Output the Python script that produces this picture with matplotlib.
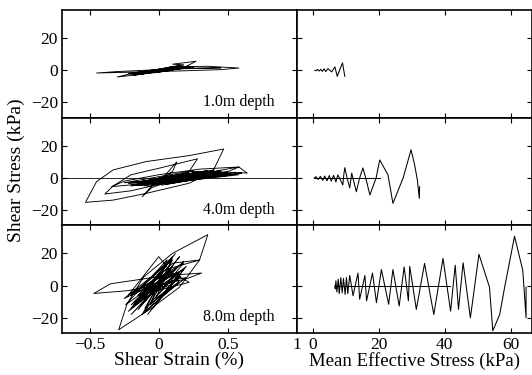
import matplotlib.pyplot as plt

plt.rcParams['font.family'] = ['Liberation Serif', 'DejaVu Serif']
plt.rcParams['font.size'] = 12.5

depths = ['1.0m depth', '4.0m depth', '8.0m depth']

# stress-strain loops (strain in %, shear stress in kPa)
strain_1m = [0.00, 0.08, 0.02, -0.10, -0.03, 0.12, 0.05, -0.14, -0.05, 0.16, 0.06, -0.18,
             -0.06, 0.18, 0.10, 0.27, 0.20, 0.00, -0.20, -0.30, -0.22, -0.05, 0.15, 0.35,
             0.58, 0.45, 0.20, -0.10, -0.45, -0.30, -0.05, 0.20, 0.45, 0.10, -0.15, 0.20,
             0.05, -0.20, 0.12, -0.08, 0.22, -0.12, 0.05, -0.18, 0.25, -0.02, 0.15, -0.20,
             0.10, -0.15, 0.20, -0.05, 0.25, 0.00, -0.22, 0.18, -0.10, 0.00]
stress_1m = [0.0, 2.0, 0.3, -1.8, -0.2, 2.6, 0.4, -2.6, -0.6, 3.0, 0.5, -3.2,
             -0.4, 3.4, 3.8, 5.6, 2.5, -1.2, -3.2, -4.2, -2.5, 0.0, 2.2, 2.5,
             1.4, 0.4, -0.3, -1.0, -1.7, -0.8, 0.2, 1.0, 1.5, 1.2, -1.5, 2.0,
             -0.5, -2.5, 1.8, -1.2, 2.5, -2.2, 1.0, -2.8, 2.2, -1.5, 2.8, -2.0,
             0.5, -2.6, 1.5, -1.0, 2.0, -0.5, -2.0, 2.6, -1.8, 0.0]

strain_4m = [0.00, 0.15, 0.05, -0.10, 0.05, 0.25, 0.15, -0.05, 0.10, 0.35, 0.20, 0.00,
             0.15, 0.45, 0.30, 0.05, 0.25, 0.55, 0.64, 0.58, 0.45, 0.10, -0.34, -0.25,
             0.00, 0.30, 0.58, 0.39, 0.22, -0.09, -0.33, -0.53, -0.45, -0.33, -0.09, 0.22,
             0.47, 0.39, 0.22, 0.05, -0.20, -0.39, -0.33, -0.20, 0.00, 0.28, 0.22, 0.05,
             -0.05, -0.12, -0.05, 0.05, 0.13, 0.10, -0.05, -0.20, 0.30, -0.10, 0.45, -0.15,
             0.40, -0.05, 0.50, -0.20, 0.35, 0.00, 0.55, -0.10, 0.25, -0.25, 0.45, 0.05,
             0.50, -0.15, 0.30, 0.10, 0.60, -0.05, 0.40, -0.18, 0.52, 0.02, 0.48, -0.12,
             0.35, -0.22, 0.42, 0.08, 0.58, 0.00, 0.30, -0.15, 0.50, -0.08, 0.20, 0.00]
stress_4m = [0.0, 2.0, -1.0, -3.0, 0.0, 3.0, 0.0, -3.5, -0.5, 3.5, 0.5, -3.8,
             -1.0, 4.0, 1.0, -4.0, -1.0, 3.5, 3.0, 6.8, 2.0, -2.0, -5.4, -2.0,
             2.0, 5.5, 6.8, 3.9, -3.3, -9.6, -13.8, -15.2, -2.3, 5.0, 10.2, 13.9,
             18.0, 3.9, 4.0, -3.0, -8.0, -10.0, -5.0, 2.0, 6.0, 11.9, 4.0, -3.0,
             -6.0, -11.7, -5.0, 2.0, 10.0, 4.0, -5.0, -4.5, 3.5, -3.0, 4.5, -3.5,
             2.5, -4.0, 3.0, -5.0, 4.0, -2.0, 3.5, -4.5, 4.5, -3.0, 2.0, -3.5,
             4.0, -2.5, 1.5, -2.0, 3.0, -4.0, 5.0, -3.0, 2.5, -4.5, 3.5, -2.0,
             4.5, -3.5, 1.0, -3.0, 2.0, -1.5, 3.5, -4.0, 1.5, -2.5, 3.0, 0.0]

strain_8m = [0.00, -0.05, 0.10, -0.10, 0.15, -0.15, 0.05, -0.20, 0.18, -0.12, 0.12, -0.18,
             0.08, -0.22, 0.20, -0.08, 0.15, -0.25, 0.10, -0.10, 0.20, 0.15, -0.015, -0.23,
             -0.47, -0.35, -0.185, 0.055, 0.31, 0.20, 0.00, -0.15, 0.22, 0.10, -0.20, 0.05,
             0.295, 0.355, 0.10, -0.11, -0.23, -0.29, -0.065, 0.15, 0.295, 0.10, -0.15, 0.05,
             -0.20, 0.12, -0.05, 0.18, -0.22, 0.00, 0.15, -0.10, 0.08, -0.18, 0.12, -0.14,
             0.16, -0.06, 0.06, -0.24, 0.02, -0.12, 0.14, -0.02, 0.10, -0.16, 0.04, -0.20,
             0.18, -0.04, 0.08, -0.10, 0.00]
stress_8m = [0.0, -5.0, 12.0, -10.0, 18.0, -15.0, 5.0, -18.0, 15.0, -8.0, 20.0, -12.0,
             10.0, -16.0, 12.0, -18.0, 8.0, -8.0, 16.0, -14.0, 5.0, 4.2, 0.0, -3.2,
             -4.9, 1.1, 3.2, 6.3, 7.8, 4.2, 0.0, -6.0, 2.0, 8.0, -12.0, 10.0,
             15.9, 31.7, 20.1, 5.3, -11.6, -27.5, -14.8, -1.0, 15.9, 14.0, -6.0, 12.0,
             -14.0, 6.0, -10.0, 14.0, -6.0, 18.0, 2.0, -16.0, 9.0, -4.0, 10.0, -10.0,
             6.0, -12.0, 16.0, -12.0, 4.0, -18.0, 2.0, -8.0, 18.0, -4.0, 12.0, -6.0,
             10.0, -14.0, 0.0, -2.0, 0.0]

# stress paths (mean effective stress in kPa, shear stress in kPa)
p_1m = [9.7, 9.0, 8.2, 7.4, 6.7, 5.7, 4.6, 3.9, 3.4, 2.9, 2.4, 1.9, 1.4, 1.0, 0.6]
tau_1m = [-3.8, 4.6, 0.5, -3.8, 2.1, -1.0, 1.0, -0.8, 0.9, -0.7, 0.6, -0.5, 0.5, -0.3, 0.0]

p_4m = [32.4, 32.3, 31.7, 30.8, 29.8, 27.4, 24.3, 22.8, 20.3, 19.2, 17.3, 16.3, 15.2, 14.2,
        13.2, 12.4, 11.8, 11.2, 10.4, 9.7, 9.4, 9.1, 8.3, 7.6, 7.0, 6.3, 5.6, 5.0, 4.3,
        3.6, 3.0, 2.3, 1.6, 1.0, 0.4]
tau_4m = [-5.4, -12.7, -1.0, 9.0, 17.5, 0.0, -15.8, 1.9, 11.2, 0.0, -10.6, -2.0, 6.2, 0.0,
          -8.6, -2.0, 3.0, -6.2, 0.0, 6.4, 2.0, -4.4, -1.0, 1.9, -2.5, 1.6, -2.0, 1.5, -1.8,
          1.2, -1.5, 1.0, -1.0, 0.8, 0.0]

p_8m = [64.7, 64.7, 63.7, 61.2, 58.2, 56.7, 54.6, 53.6, 50.4, 47.8, 45.6, 44.2, 43.2, 41.8,
        39.5, 36.7, 33.9, 31.4, 29.4, 29.0, 27.7, 26.2, 24.3, 23.0, 20.8, 19.3, 18.1, 16.3,
        15.8, 14.2, 13.7, 12.2, 11.2, 10.6, 10.2, 9.8, 9.3, 8.9, 8.5, 8.0, 7.7, 7.3, 7.0,
        6.8, 6.7]
tau_8m = [-1.0, -20.0, 9.5, 30.7, -1.0, -18.0, -28.1, -1.0, 19.5, -20.1, 14.2, -14.8, 12.7, -15.9,
          16.9, -18.0, 13.8, -14.8, 12.0, -9.5, 11.6, -12.7, 10.0, -11.6, 10.0, -10.6, 7.8, -9.5,
          6.3, -8.5, 7.8, -6.3, 6.3, -5.0, 5.0, -5.5, 4.5, -4.5, 5.0, -5.0, 4.0, -4.0, 3.0,
          -2.0, 0.0]

# straight zero-stress lines drawn in the original output
flat_strain = [-0.70, 1.00]
flat_p_4m = [0.4, 20.3]
flat_p_8m = [6.7, 41.5]

left_data = [(strain_1m, stress_1m), (strain_4m, stress_4m), (strain_8m, stress_8m)]
right_data = [(p_1m, tau_1m), (p_4m, tau_4m), (p_8m, tau_8m)]

fig = plt.figure(figsize=(5.32, 3.75), dpi=100)

row_h = 0.2871
row_bottoms = [0.112 + 2 * row_h, 0.112 + row_h, 0.112]

for i in range(3):
    axl = fig.add_axes([0.1165, row_bottoms[i], 0.4417, row_h])
    axr = fig.add_axes([0.5583, row_bottoms[i], 0.4417, row_h])

    x, y = left_data[i]
    axl.plot(x, y, color='black', lw=0.65)
    if i == 1:
        axl.plot(flat_strain, [0, 0], color='black', lw=0.6)
    p, t = right_data[i]
    axr.plot(p, t, color='black', lw=0.75)
    if i == 1:
        axr.plot(flat_p_4m, [0, 0], color='black', lw=0.7)
    if i == 2:
        axr.plot(flat_p_8m, [0, 0], color='black', lw=0.7)

    axl.set_xlim(-0.7, 1.0)
    axr.set_xlim(-4.8, 66.5)
    for ax in (axl, axr):
        ax.set_ylim(-29.5, 37.5)
        ax.set_yticks([-20, 0, 20])
        ax.tick_params(direction='in', top=True, right=True, length=3.5, width=0.8, pad=3)
        for s in ax.spines.values():
            s.set_linewidth(1.2)
    axl.set_xticks([-0.5, 0, 0.5, 1])
    axl.set_xticklabels(['\u22120.5', '0', '0.5', '1'])
    axl.set_yticklabels(['\u221220', '0', '20'])
    axr.set_xticks([0, 20, 40, 60])
    axr.set_yticklabels([])

    axl.text(0.905, 0.145, depths[i], transform=axl.transAxes, ha='right', va='center',
             fontsize=11.5)

    if i < 2:
        axl.set_xticklabels([])
        axr.set_xticklabels([])
    else:
        axl.set_xlabel('Shear Strain (%)', labelpad=-1, fontsize=14)
        axr.set_xlabel('Mean Effective Stress (kPa)', labelpad=-1, fontsize=13.5)

fig.text(0.03, 0.545, 'Shear Stress (kPa)', rotation=90, ha='center', va='center',
         fontsize=14)

fig.savefig('out.png', dpi=100)
